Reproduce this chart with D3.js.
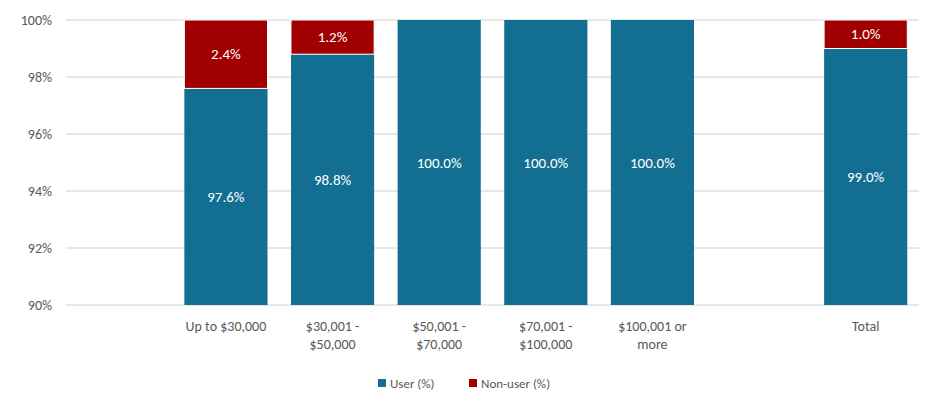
<!DOCTYPE html>
<html><head><meta charset="utf-8">
<script src="https://cdn.jsdelivr.net/npm/d3@7"></script>
<style>body{margin:0;background:#fff;font-family:Calibri,Carlito,"Liberation Sans",sans-serif;}</style>
</head><body><svg id="chart" width="940" height="414"></svg>
<script>
// empty slots keep the gaps seen in the original
const categories = ["", "Up to $30,000", "$30,001 - $50,000", "$50,001 - $70,000", "$70,001 - $100,000", "$100,001 or more", " ", "Total"];
const catLines = [[], ["Up to $30,000"], ["$30,001 -", "$50,000"], ["$50,001 -", "$70,000"], ["$70,001 -", "$100,000"], ["$100,001 or", "more"], [], ["Total"]];
const userPct = [null, 97.6, 98.8, 100.0, 100.0, 100.0, null, 99.0];
const nonUserPct = [null, 2.4, 1.2, 0, 0, 0, null, 1.0];
const yTicks = [90, 92, 94, 96, 98, 100];

const svg = d3.select("#chart");
const plotLeft = 66, plotRight = 919, plotTop = 20, plotBottom = 305;
const x = d3.scaleBand().domain(categories).range([plotLeft, plotRight]).paddingInner(0.22).paddingOuter(0.11);
const y = d3.scaleLinear().domain([90, 100]).range([plotBottom, plotTop]);
const blue = "#136f92", red = "#a00000";

svg.append("g").selectAll("line").data(yTicks).join("line")
  .attr("x1", plotLeft).attr("x2", plotRight).attr("y1", d => y(d)).attr("y2", d => y(d))
  .attr("stroke", "#d0d0d0").attr("stroke-width", 1);
svg.append("g").selectAll("text").data(yTicks).join("text")
  .attr("x", 52).attr("y", d => y(d) + 5).attr("text-anchor", "end")
  .attr("font-size", 14).attr("fill", "#595959").text(d => d + "%");

const rows = categories.map((c, i) => ({c, u: userPct[i], n: nonUserPct[i]})).filter(d => d.u !== null);
const g = svg.append("g");
g.selectAll("rect.u").data(rows).join("rect")
  .attr("x", d => x(d.c)).attr("width", x.bandwidth())
  .attr("y", d => y(d.u)).attr("height", d => y(90) - y(d.u)).attr("fill", blue);
g.selectAll("rect.n").data(rows.filter(d => d.n > 0)).join("rect")
  .attr("x", d => x(d.c)).attr("width", x.bandwidth())
  .attr("y", y(100)).attr("height", d => y(d.u) - y(100)).attr("fill", red)
  .attr("stroke", "#fff").attr("stroke-width", 1);
g.selectAll("text.u").data(rows).join("text")
  .attr("x", d => x(d.c) + x.bandwidth() / 2).attr("y", d => (y(d.u) + y(90)) / 2 + 5)
  .attr("text-anchor", "middle").attr("font-size", 15).attr("fill", "#fff").text(d => d.u.toFixed(1) + "%");
g.selectAll("text.n").data(rows.filter(d => d.n > 0)).join("text")
  .attr("x", d => x(d.c) + x.bandwidth() / 2).attr("y", d => (y(d.u) + y(100)) / 2 + 5)
  .attr("text-anchor", "middle").attr("font-size", 15).attr("fill", "#fff").text(d => d.n.toFixed(1) + "%");

categories.forEach((c, i) => {
  const cx = x(c) + x.bandwidth() / 2;
  const t = svg.append("text").attr("x", cx).attr("y", 331)
    .attr("text-anchor", "middle").attr("font-size", 14).attr("fill", "#595959");
  catLines[i].forEach((l, j) => t.append("tspan").attr("x", cx).attr("dy", j ? 18 : 0).text(l));
});

const legend = [["User (%)", blue, 378], ["Non-user (%)", red, 469]];
legend.forEach(([t, col, lx]) => {
  svg.append("rect").attr("x", lx).attr("y", 379).attr("width", 8).attr("height", 8).attr("fill", col);
  svg.append("text").attr("x", lx + 12).attr("y", 388).attr("font-size", 13).attr("fill", "#595959").text(t);
});
</script></body></html>
